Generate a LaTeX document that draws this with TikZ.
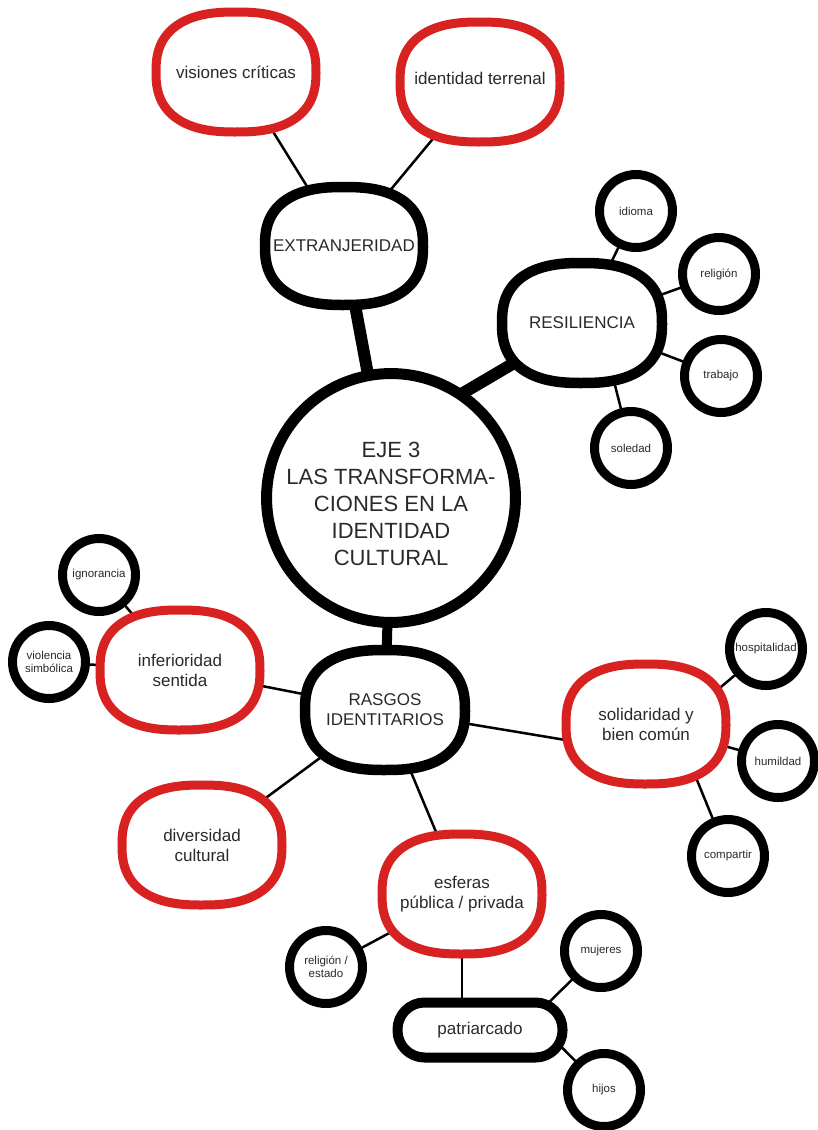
\documentclass[tikz,border=0pt]{standalone}
\usepackage{fontspec}
\setmainfont{Liberation Sans}
\usetikzlibrary{backgrounds,calc}
\definecolor{mapred}{RGB}{216,34,34}
\definecolor{ink}{RGB}{42,42,42}
\tikzset{
  every node/.style={text=ink, align=center},
  hub/.style={circle, draw=black, fill=white, line width=11pt, minimum size=246pt, inner sep=0pt,
    font=\fontsize{22}{27}\selectfont},
  % text holder for the squircle-shaped boxes; the outline is drawn separately
  topic/.style={minimum width=170pt, minimum height=130pt, inner sep=2pt,
    font=\fontsize{17}{20}\selectfont},
  topicline/.style={draw=black, fill=white, line width=10.5pt},
  facetline/.style={draw=mapred, fill=white, line width=9pt},
  pill/.style={draw=black, fill=white, line width=10pt, rounded corners=27pt,
    minimum width=165pt, minimum height=55pt, font=\fontsize{17}{20}\selectfont},
  leaf/.style={circle, draw=black, fill=white, line width=9pt, minimum size=73pt, inner sep=0pt,
    font=\fontsize{11.5}{13}\selectfont},
  trunk/.style={line width=12pt},
  twig/.style={line width=2.5pt},
}
% squircle outline around a node: #1 node, #2 half width, #3 half height, #4 style
\newcommand{\mapblob}[4]{%
  \path[shift={(#1.center)}, line join=round, #4]
    plot[domain=0.5:360.5, samples=121]
      ({#2*sign(cos(\x))*pow(abs(cos(\x)),0.8)},
       {#3*sign(sin(\x))*pow(abs(sin(\x)),0.8)}) -- cycle;}
\begin{document}
\begin{tikzpicture}[x=1pt,y=-1pt]
\useasboundingbox (0,0) rectangle (818,1130);
\clip (0,0) rectangle (818,1130);

% central theme
\node[hub] (eje) at (391,498) {\raisebox{-8pt}[\height][\depth]{\begin{tabular}{@{}c@{}}EJE 3\\LAS TRANSFORMA-\\CIONES EN LA\\IDENTIDAD\\CULTURAL\end{tabular}}};

% upper branch
\node[topic] (ext) at (344,246) {EXTRANJERIDAD};
\node[topic] (vis) at (236,72) {visiones críticas};
\node[topic] (ter) at (480,82) {\raisebox{4pt}[\height][\depth]{identidad terrenal}};

% right branch
\node[topic] (res) at (582,323) {RESILIENCIA};
\node[leaf] (idi) at (636,211) {idioma};
\node[leaf] (rel) at (719,274) {religión};
\node[leaf] (tra) at (721,376) {trabajo};
\node[leaf] (sol) at (631,448) {soledad};

% lower branch
\node[topic] (ras) at (385,710) {RASGOS\\IDENTITARIOS};
\node[topic] (inf) at (180,670) {inferioridad\\sentida};
\node[leaf] (ign) at (99,575) {ignorancia};
\node[leaf] (vio) at (49,662) {violencia\\simbólica};
\node[topic] (soli) at (646,724) {solidaridad y\\bien común};
\node[leaf] (hos) at (766,649) {hospitalidad};
\node[leaf] (hum) at (778,761) {humildad};
\node[leaf] (com) at (728,856) {compartir};
\node[topic] (div) at (202,845) {diversidad\\cultural};
\node[topic] (esf) at (462,894) {esferas\\pública / privada};
\node[leaf] (rle) at (326,967) {religión /\\estado};
\node[pill] (pat) at (480,1030) {patriarcado};
\node[leaf] (muj) at (601,951) {mujeres};
\node[leaf] (hij) at (604,1090) {hijos};

\begin{scope}[on background layer]
  % connectors
  \draw[trunk] (eje.center) -- (ext.center);
  \draw[trunk, shorten <=-10pt] (eje.55) -- (res.center);
  \draw[trunk, line width=10pt] (eje.center) -- (ras.center);

  \draw[twig] (vis.center) -- (ext.center);
  \draw[twig] (ter.center) -- (ext.center);

  \draw[twig] (idi.center) -- (res.center);
  \draw[twig] (rel.center) -- (res.center);
  \draw[twig] (tra.center) -- (res.center);
  \draw[twig] (sol.center) -- ($(res.center)!0.2!(res.east)$);

  \draw[twig] (ign.center) -- (inf.center);
  \draw[twig] (vio.center) -- (inf.center);
  \draw[twig] (inf.center) -- (ras.center);
  \draw[twig] (ras.center) -- ($(soli.center)!0.45!(soli.south)$);
  \draw[twig] (div.center) -- (ras.center);
  \draw[twig] (esf.center) -- (ras.center);

  \draw[twig] (hos.center) -- ($(soli.center)!0.4!(soli.south)$);
  \draw[twig] (hum.center) -- (soli.center);
  \draw[twig] (com.center) -- ($(soli.center)!0.33!(soli.east)$);

  \draw[twig] (rle.center) -- (esf.center);
  \draw[twig] (esf.center) -- (esf.center |- pat.center);
  \draw[twig] (muj.center) -- ($(pat.center)!0.75!(pat.north east)$);
  \draw[twig] (hij.center) -- ($(pat.center)!0.74!(pat.east)$);

  % box outlines, covering the connector ends
  \mapblob{ext}{79}{59}{topicline}
  \mapblob{res}{80}{60}{topicline}
  \mapblob{ras}{80}{60}{topicline}
  \mapblob{vis}{80}{60}{facetline}
  \mapblob{ter}{80}{60}{facetline}
  \mapblob{inf}{80}{60}{facetline}
  \mapblob{soli}{80}{60}{facetline}
  \mapblob{div}{80}{60}{facetline}
  \mapblob{esf}{80}{60}{facetline}
\end{scope}
\end{tikzpicture}
\end{document}
